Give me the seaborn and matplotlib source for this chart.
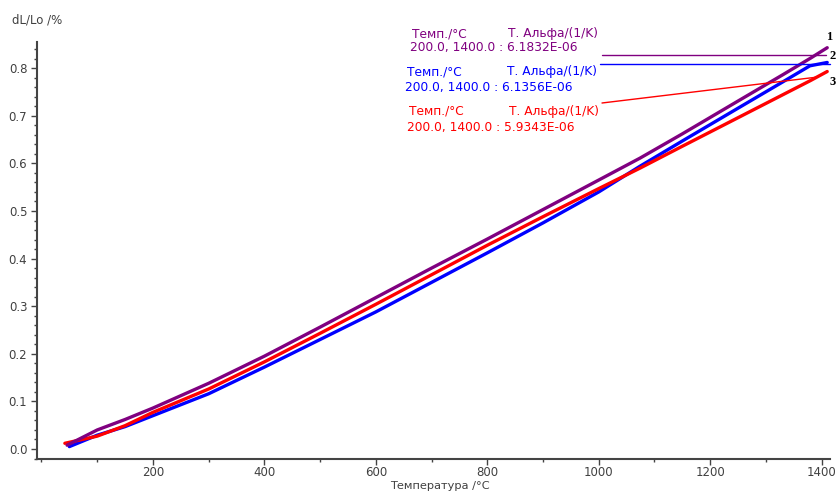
import numpy as np
import pandas as pd
import matplotlib
matplotlib.use("Agg")
import matplotlib.pyplot as plt
from matplotlib.lines import Line2D
from matplotlib.ticker import MultipleLocator
import seaborn as sns

# ---- data ----
temp_1 = [46, 100, 150, 200, 300, 400, 500, 600, 700, 800, 900, 1000, 1074, 1150, 1250, 1330, 1380, 1410]
dl_1 = [0.008, 0.040, 0.062, 0.086, 0.138, 0.195, 0.256, 0.318, 0.380, 0.441, 0.503, 0.565, 0.611, 0.662, 0.731, 0.786, 0.821, 0.843]

temp_2 = [50, 100, 150, 200, 300, 400, 500, 600, 700, 800, 900, 1000, 1074, 1150, 1250, 1330, 1379, 1410]
dl_2 = [0.005, 0.029, 0.047, 0.070, 0.116, 0.172, 0.230, 0.288, 0.350, 0.412, 0.475, 0.540, 0.594, 0.647, 0.716, 0.771, 0.805, 0.812]

temp_3 = [42, 100, 150, 200, 300, 400, 500, 600, 700, 800, 900, 1000, 1074, 1150, 1250, 1330, 1380, 1410]
dl_3 = [0.012, 0.027, 0.049, 0.077, 0.126, 0.183, 0.243, 0.304, 0.366, 0.428, 0.488, 0.547, 0.590, 0.636, 0.696, 0.744, 0.774, 0.793]

series_names = ["1", "2", "3"]
series_colors = ["#800080", "#0000ff", "#ff0000"]
alpha_values = ["6.1832E-06", "6.1356E-06", "5.9343E-06"]
range_label = "200.0, 1400.0 : "
x_ticks = [200, 400, 600, 800, 1000, 1200, 1400]
y_ticks = [0.0, 0.1, 0.2, 0.3, 0.4, 0.5, 0.6, 0.7, 0.8]

df = pd.concat([
    pd.DataFrame({"T": temp_1, "dL": dl_1, "s": "1"}),
    pd.DataFrame({"T": temp_2, "dL": dl_2, "s": "2"}),
    pd.DataFrame({"T": temp_3, "dL": dl_3, "s": "3"}),
], ignore_index=True)

sns.set_style("ticks")
plt.rcParams["font.family"] = ["DejaVu Sans"]

W, H = 840, 491
fig = plt.figure(figsize=(W / 100, H / 100), dpi=100)
ax = fig.add_axes([37 / W, 1 - 459 / H, (830 - 37) / W, (459 - 42) / H])

sns.lineplot(data=df, x="T", y="dL", hue="s", hue_order=["2", "3", "1"],
             palette={n: c for n, c in zip(series_names, series_colors)},
             linewidth=2.4, legend=False, sort=False, estimator=None, ax=ax)

ax.set_xlim(-8, 1415)
ax.set_ylim(-0.021, 0.855)
ax.set_xticks(x_ticks)
ax.set_yticks(y_ticks)
ax.set_yticklabels([f"{v:.1f}" for v in y_ticks])
ax.xaxis.set_minor_locator(MultipleLocator(100))
ax.yaxis.set_minor_locator(MultipleLocator(0.02))
ax.set_xlabel("")
ax.set_ylabel("")

for side in ["top", "right"]:
    ax.spines[side].set_visible(False)
for side in ["left", "bottom"]:
    ax.spines[side].set_color("#444444")
    ax.spines[side].set_linewidth(1.5)
ax.tick_params(which="major", direction="out", length=4, width=1, color="#444444",
               labelsize=8.5, labelcolor="#404040", pad=3)
ax.tick_params(axis="x", which="major", pad=1)
ax.tick_params(which="minor", direction="out", length=2, width=1, color="#444444")

# axis titles
fig.text(12 / W, 1 - 20 / H, "dL/Lo /%", fontsize=8.5, color="#404040", va="center", ha="left")
fig.text(440 / W, 1 - 490.8 / H, "Температура /°C", fontsize=8.2, color="#404040", va="bottom", ha="center")

# annotation text blocks
blocks = [(412, 508, 34, 48), (407, 507, 72, 87), (409, 509, 111, 127)]
for (x1, x2, y1, y2), col, av in zip(blocks, series_colors, alpha_values):
    fig.text(x1 / W, 1 - y1 / H, "Темп./°C", color=col, fontsize=8.8, va="center", ha="left")
    fig.text(x2 / W, 1 - y1 / H, "Т. Альфа/(1/K)", color=col, fontsize=8.8, va="center", ha="left")
    fig.text((x1 - 2) / W, 1 - y2 / H, range_label + av, color=col, fontsize=8.8, va="center", ha="left")

# leader lines
leaders = [((602, 55), (826, 55)), ((600, 64), (830, 64)), ((602, 103), (818, 77))]
for ((xa, ya), (xb, yb)), col in zip(leaders, series_colors):
    fig.add_artist(Line2D([xa / W, xb / W], [1 - ya / H, 1 - yb / H], color=col, linewidth=1,
                          transform=fig.transFigure))

# curve numbers
for name, (px, py) in zip(series_names, [(829, 37), (833, 56), (833, 82)]):
    fig.text(px / W, 1 - py / H, name, fontsize=9, fontweight="bold", family="Liberation Serif",
             color="black", va="center", ha="center")

fig.savefig("out.png", dpi=100)
